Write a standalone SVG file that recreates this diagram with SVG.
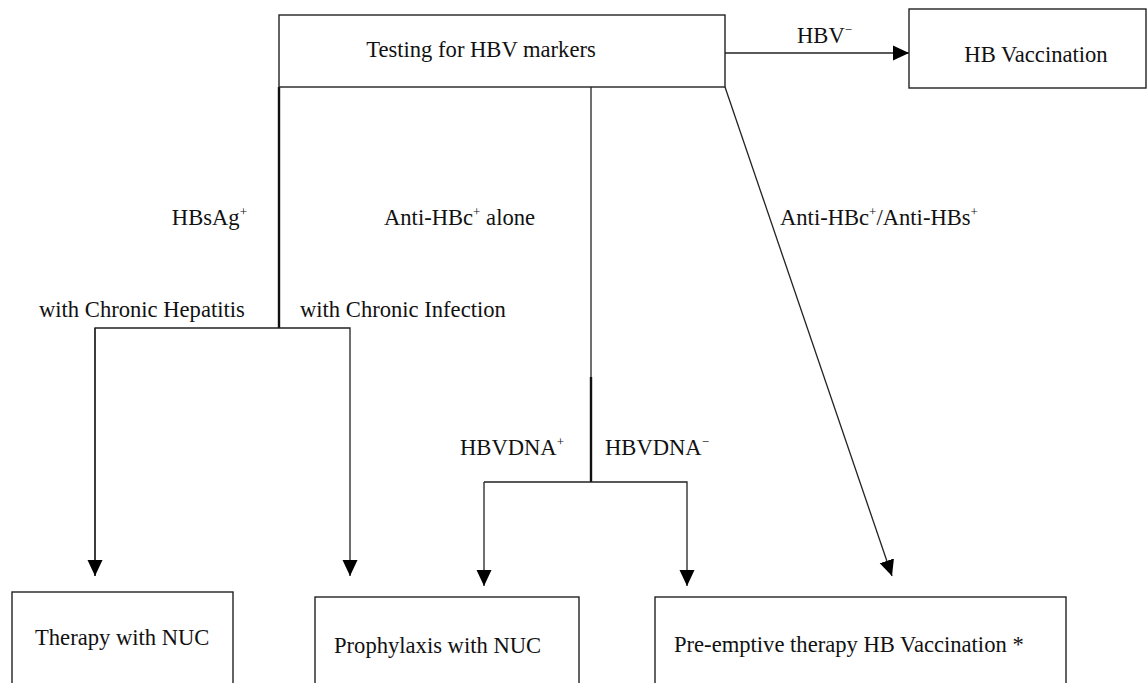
<svg xmlns="http://www.w3.org/2000/svg" width="1148" height="683" viewBox="0 0 1148 683">
<style>
.box{fill:#fff;stroke:#222;stroke-width:1.4}
.t{font-family:"Liberation Serif","Times New Roman",serif;font-size:22.6px;fill:#111}
.sup{font-size:13px}
.ln{fill:none;stroke:#222;stroke-width:1.3}
.thick{fill:none;stroke:#111;stroke-width:2.4}
</style>
<defs>
<marker id="ah" markerUnits="userSpaceOnUse" markerWidth="18" markerHeight="18" refX="16" refY="8" orient="auto">
<path d="M0,0.5 L16,8 L0,15.5 Z" fill="#000"/>
</marker>
</defs>
<g id="connectors">
<line class="ln" x1="725" y1="53" x2="909" y2="53" marker-end="url(#ah)"/>
<line class="thick" x1="279" y1="87" x2="279" y2="328"/>
<polyline class="ln" points="95,576 95,328 350,328 350,576" marker-end="url(#ah)"/>
<line class="ln" x1="95" y1="328" x2="95" y2="576" marker-end="url(#ah)"/>
<line class="ln" x1="591" y1="87" x2="591" y2="378"/>
<line class="thick" x1="591" y1="377" x2="591" y2="482"/>
<polyline class="ln" points="484,482 687,482 687,586" marker-end="url(#ah)"/>
<line class="ln" x1="484" y1="482" x2="484" y2="586" marker-end="url(#ah)"/>
<line class="ln" x1="725" y1="87" x2="892" y2="576" marker-end="url(#ah)"/>
</g>
<g id="labels">
<text class="t" x="797" y="43">HBV<tspan class="sup" dy="-9">−</tspan></text>
<text class="t" x="247" y="225" text-anchor="end">HBsAg<tspan class="sup" dy="-9">+</tspan></text>
<text class="t" x="384" y="225">Anti-HBc<tspan class="sup" dy="-9">+</tspan><tspan dy="9"> alone</tspan></text>
<text class="t" x="780" y="225">Anti-HBc<tspan class="sup" dy="-9">+</tspan><tspan dy="9">/Anti-HBs</tspan><tspan class="sup" dy="-9">+</tspan></text>
<text class="t" x="39" y="317">with Chronic Hepatitis</text>
<text class="t" x="300" y="317">with Chronic Infection</text>
<text class="t" x="460" y="455">HBVDNA<tspan class="sup" dy="-9">+</tspan></text>
<text class="t" x="605" y="455">HBVDNA<tspan class="sup" dy="-9">−</tspan></text>
</g>
<g id="n-testing">
<rect class="box" x="279" y="15" width="446" height="72"/>
<text class="t" x="481" y="57" text-anchor="middle">Testing for HBV markers</text>
</g>
<g id="n-vaccination">
<rect class="box" x="909" y="9" width="237" height="79"/>
<text class="t" x="1036" y="62" text-anchor="middle">HB Vaccination</text>
</g>
<g id="n-therapy">
<rect class="box" x="12" y="592" width="221" height="120"/>
<text class="t" x="35" y="645">Therapy with NUC</text>
</g>
<g id="n-prophylaxis">
<rect class="box" x="315" y="597" width="264" height="120"/>
<text class="t" x="334" y="653">Prophylaxis with NUC</text>
</g>
<g id="n-preemptive">
<rect class="box" x="655" y="597" width="411" height="120"/>
<text class="t" x="674" y="652">Pre-emptive therapy HB Vaccination *</text>
</g>
</svg>
